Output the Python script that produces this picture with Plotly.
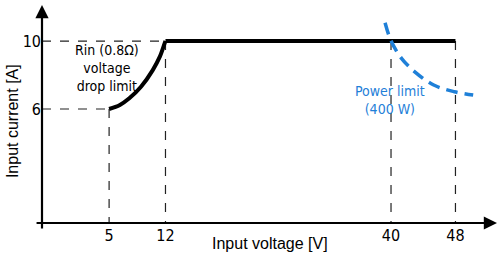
import plotly.graph_objects as go

# ---- data ----
tick_v = [5, 12, 40, 48]
tick_i = [6, 10]
# Rin (0.8 ohm) voltage drop limit curve
rin_v = [5.0, 6.34, 7.51, 8.96, 10.42, 11.30, 11.89, 12.0]
rin_i = [6.0, 6.24, 6.63, 7.31, 8.29, 9.08, 9.86, 10.0]
# flat current limit
flat_v = [12, 48]
flat_i = [10, 10]
# power limit (400 W) curve
pw_v = [39.26, 40.0, 41.3, 42.95, 45.3, 47.86, 50.2]
pw_i = [11.08, 10.02, 8.98, 8.19, 7.41, 7.02, 6.82]

X_RANGE = [-3.33, 52.66]
Y_RANGE = [-0.706, 12.12]

NARROW = "DejaVu Sans Condensed, Liberation Sans Narrow, sans-serif"
ARIAL = "Liberation Sans, Arial, sans-serif"
BLUE = "#1f80d8"

fig = go.Figure()

dash_style = dict(color="#222", width=1.2, dash="dash")
# vertical dashed guides
for v in tick_v:
    top = 6 if v == 5 else 10
    fig.add_trace(go.Scatter(x=[v, v], y=[top, Y_RANGE[0]], mode="lines",
                             line=dash_style, hoverinfo="skip"))
# horizontal dashed guides
fig.add_trace(go.Scatter(x=[X_RANGE[0], 12], y=[10, 10], mode="lines",
                         line=dash_style, hoverinfo="skip"))
fig.add_trace(go.Scatter(x=[X_RANGE[0], 5], y=[6, 6], mode="lines",
                         line=dash_style, hoverinfo="skip"))

# curves
fig.add_trace(go.Scatter(x=rin_v, y=rin_i, mode="lines",
                         line=dict(color="black", width=4, shape="spline")))
fig.add_trace(go.Scatter(x=flat_v, y=flat_i, mode="lines",
                         line=dict(color="black", width=4)))
fig.add_trace(go.Scatter(x=pw_v, y=pw_i, mode="lines",
                         line=dict(color=BLUE, width=3.5, shape="spline",
                                   dash="12px,7px")))

annotations = [
    # axis arrows
    dict(x=0, y=1, xref="paper", yref="paper", ax=0, ay=225,
         showarrow=True, arrowhead=2, arrowsize=1.2,
         arrowwidth=2.2, arrowcolor="black", text=""),
    dict(x=1.009, y=0, xref="paper", yref="paper", ax=-462, ay=0,
         showarrow=True, arrowhead=2, arrowsize=1.2, arrowwidth=2.2,
         arrowcolor="black", text=""),
    # axis titles
    dict(x=0.5055, y=-0.092, xref="paper", yref="paper", showarrow=False,
         text="Input voltage [V]", xanchor="center", yanchor="middle",
         font=dict(family=ARIAL, size=16, color="black")),
    dict(x=-0.064, y=0.468, xref="paper", yref="paper", showarrow=False,
         text="Input current [A]", textangle=-90, xanchor="center",
         yanchor="middle", font=dict(family=ARIAL, size=16, color="black")),
    # labels
    dict(x=4.8, y=8.4, xref="x", yref="y", showarrow=False,
         text="Rin (0.8Ω)<br>voltage<br>drop limit",
         font=dict(family=NARROW, size=14, color="black")),
    dict(x=39.9, y=6.55, xref="x", yref="y", showarrow=False,
         text="Power limit<br>(400 W)",
         font=dict(family=NARROW, size=14, color=BLUE)),
]

fig.update_layout(
    width=498, height=259,
    margin=dict(l=42, r=5, t=5, b=36),
    paper_bgcolor="white", plot_bgcolor="white",
    showlegend=False,
    annotations=annotations,
    xaxis=dict(range=X_RANGE, tickvals=tick_v, ticktext=[str(v) for v in tick_v],
               showgrid=False, zeroline=False, showline=False, ticks="",
               automargin=False, ticklabelstandoff=1,
               tickfont=dict(family=NARROW, size=16, color="black")),
    yaxis=dict(range=Y_RANGE, tickvals=tick_i, ticktext=[str(v) for v in tick_i],
               showgrid=False, zeroline=False, showline=False, ticks="",
               automargin=False,
               tickfont=dict(family=NARROW, size=16, color="black")),
)

fig.write_html("out.html",
               config={"displayModeBar": False},
               post_script="document.body.style.margin='0';"
                           "document.body.style.overflow='hidden';")
